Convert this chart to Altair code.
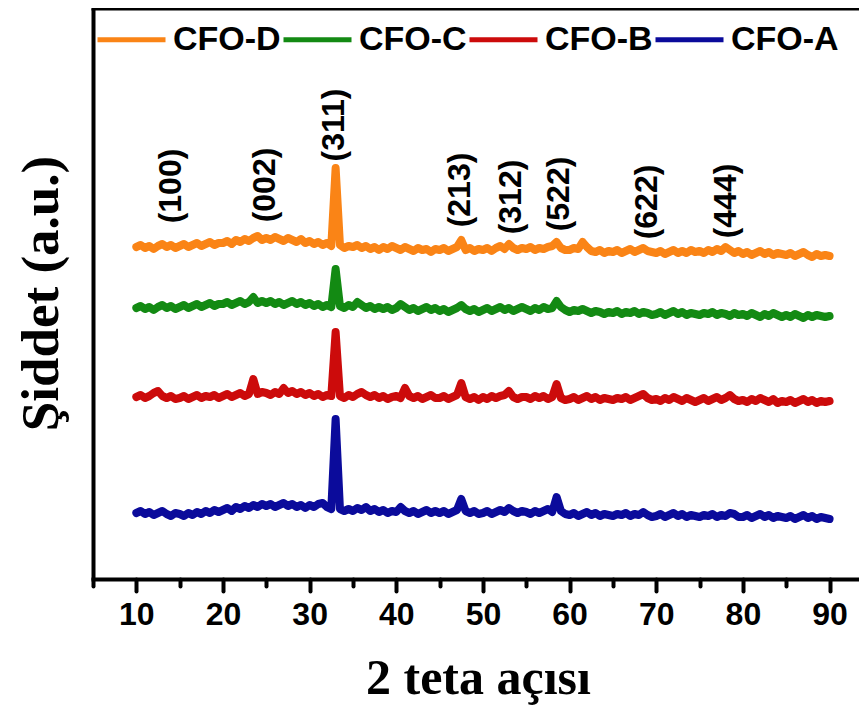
import altair as alt
import pandas as pd

# 2-theta grid (degrees), 0.5 degree steps from 10 to 90
two_theta = [round(10 + 0.5 * i, 1) for i in range(161)]

# Intensities (arbitrary units, vertically offset per sample)
cfo_d = [
    332, 334, 331, 333, 330, 333, 335, 332, 334, 331,
    333, 335, 332, 334, 336, 333, 335, 337, 334, 336,
    336, 338, 335, 339, 337, 340, 338, 341, 343, 339,
    341, 339, 342, 340, 338, 341, 339, 337, 340, 336,
    338, 335, 337, 334, 336, 333, 411, 334, 331, 333,
    332, 334, 331, 333, 330, 332, 329, 332, 330, 333,
    331, 329, 332, 330, 328, 331, 329, 330, 327, 330,
    329, 331, 328, 330, 332, 339, 329, 331, 328, 330,
    329, 331, 328, 331, 333, 330, 335, 331, 329, 331,
    330, 332, 329, 331, 330, 332, 333, 337, 331, 329,
    329, 331, 330, 337, 332, 328, 327, 329, 326, 328,
    327, 329, 326, 328, 330, 327, 329, 331, 328, 327,
    326, 328, 325, 327, 329, 326, 328, 326, 329, 327,
    328, 326, 329, 327, 330, 328, 332, 329, 326, 328,
    325, 327, 324, 326, 328, 325, 327, 324, 326, 325,
    324, 326, 323, 325, 327, 324, 322, 325, 323, 324,
    323,
]
cfo_c = [
    271, 273, 270, 272, 269, 272, 274, 271, 273, 270,
    272, 274, 271, 273, 275, 272, 274, 276, 273, 275,
    275, 277, 274, 276, 278, 275, 277, 282, 276, 278,
    276, 278, 275, 277, 274, 276, 278, 275, 277, 274,
    276, 273, 275, 272, 274, 272, 310, 273, 271, 274,
    272, 277, 274, 271, 273, 270, 272, 270, 272, 269,
    271, 275, 272, 269, 271, 268, 270, 272, 269, 271,
    268, 270, 267, 269, 271, 274, 270, 268, 270, 267,
    269, 271, 268, 270, 272, 269, 271, 268, 270, 272,
    270, 268, 271, 269, 272, 270, 271, 278, 272, 269,
    267, 269, 268, 270, 268, 266, 268, 267, 265, 267,
    266, 268, 265, 267, 266, 268, 265, 267, 266, 264,
    265, 267, 264, 266, 268, 265, 267, 264, 266, 265,
    264, 266, 265, 267, 264, 266, 265, 263, 266, 264,
    265, 263, 266, 264, 262, 265, 263, 266, 264, 262,
    264, 262, 265, 263, 261, 264, 262, 264, 263, 262,
    263,
]
cfo_b = [
    182, 184, 181, 183, 186, 188, 183, 181, 183, 180,
    181, 183, 180, 182, 184, 181, 183, 182, 184, 181,
    183, 185, 182, 184, 186, 183, 185, 200, 185, 187,
    186, 184, 187, 185, 191, 186, 188, 185, 187, 184,
    186, 183, 185, 182, 184, 183, 247, 183, 181, 184,
    182, 185, 187, 184, 182, 184, 181, 183, 180, 182,
    183, 181, 191, 183, 181, 183, 180, 182, 184, 181,
    181, 183, 180, 182, 184, 196, 182, 180, 182, 179,
    182, 180, 183, 181, 183, 184, 188, 182, 180, 182,
    182, 180, 183, 181, 183, 180, 182, 195, 181, 179,
    180, 182, 179, 181, 183, 180, 182, 179, 181, 180,
    179, 181, 180, 182, 179, 181, 183, 185, 181, 179,
    180, 178, 181, 179, 182, 180, 178, 181, 179, 177,
    179, 181, 178, 180, 182, 179, 181, 184, 180, 178,
    179, 177, 180, 178, 181, 179, 177, 180, 176, 178,
    177, 179, 176, 178, 180, 177, 179, 176, 178, 177,
    178,
]
cfo_a = [
    66, 68, 65, 67, 64, 66, 68, 65, 63, 66,
    65, 63, 66, 64, 67, 65, 68, 66, 69, 67,
    69, 71, 68, 72, 70, 73, 71, 74, 72, 75,
    73, 75, 72, 74, 76, 73, 75, 72, 74, 71,
    74, 72, 75, 76, 72, 70, 160, 70, 68, 70,
    68, 71, 69, 72, 68, 70, 67, 69, 66, 68,
    67, 72, 68, 66, 68, 65, 67, 69, 66, 68,
    66, 68, 65, 67, 69, 80, 68, 66, 68, 65,
    66, 68, 65, 67, 69, 67, 71, 68, 66, 68,
    67, 65, 68, 66, 68, 70, 67, 82, 68, 65,
    64, 66, 63, 65, 67, 64, 66, 63, 65, 64,
    63, 65, 64, 66, 63, 65, 64, 67, 64, 62,
    63, 65, 62, 64, 66, 63, 65, 62, 64, 63,
    62, 64, 63, 65, 62, 64, 63, 66, 65, 62,
    62, 64, 61, 63, 65, 62, 64, 61, 63, 62,
    61, 63, 60, 62, 64, 61, 63, 60, 62, 61,
    60,
]

samples = ["CFO-D", "CFO-C", "CFO-B", "CFO-A"]
colors = ["#FA8416", "#138A13", "#CC0B0B", "#0B0B9B"]

hkl_labels = ["(100)", "(002)", "(311)", "(213)", "(312)", "(522)", "(622)", "(444)"]
hkl_theta = [14.0, 24.8, 32.8, 47.4, 53.2, 58.8, 68.9, 78.1]
hkl_height = [393, 394, 454, 389, 382, 385, 377, 378]

major_ticks = [10, 20, 30, 40, 50, 60, 70, 80, 90]
minor_ticks = [5, 15, 25, 35, 45, 55, 65, 75, 85]

series = {"CFO-D": cfo_d, "CFO-C": cfo_c, "CFO-B": cfo_b, "CFO-A": cfo_a}
rows = []
for name, vals in series.items():
    for t, v in zip(two_theta, vals):
        rows.append({"two_theta": t, "intensity": v, "sample": name})
df = pd.DataFrame(rows)
df_hkl = pd.DataFrame({"two_theta": hkl_theta, "intensity": hkl_height, "label": hkl_labels})

x_scale = alt.Scale(domain=[5, 93.4], nice=False, zero=False)
y_scale = alt.Scale(domain=[0, 571], nice=False, zero=False)

y_axis = alt.Axis(
    labels=False, ticks=False, grid=False, domain=True,
    domainWidth=4, domainColor="black",
    title="Şiddet (a.u.)", titleFont="Liberation Serif", titleFontSize=53,
    titleFontWeight="bold", titleColor="black", titleAngle=270,
    titleX=-52, titleY=285, titleAlign="center", titleBaseline="middle",
)
y_enc = alt.Y("intensity:Q", scale=y_scale, axis=y_axis)

x_major = alt.Axis(
    orient="bottom", values=major_ticks, tickSize=12, tickWidth=4,
    tickColor="black", tickCap="round", domainWidth=4, domainColor="black",
    domainCap="square",
    labelFont="Liberation Sans", labelFontSize=32, labelFontWeight="bold",
    labelColor="black", labelPadding=8, labelFlush=False, grid=False, format="d",
    title="2 teta açısı", titleFont="Liberation Serif", titleFontSize=50,
    titleFontWeight="bold", titleColor="black", titleX=385, titleY=114,
    titleAlign="center", titleBaseline="alphabetic",
)
x_minor = alt.Axis(
    orient="bottom", values=minor_ticks, tickSize=7, tickWidth=4,
    tickColor="black", tickCap="round", labels=False, domain=False,
    grid=False, title=None,
)
x_top = alt.Axis(
    orient="top", ticks=False, labels=False, domain=True, domainWidth=4,
    domainColor="black", domainCap="square", grid=False, title=None,
)

lines = alt.Chart(df).mark_line(strokeWidth=8, strokeJoin="round", strokeCap="round").encode(
    x=alt.X("two_theta:Q", scale=x_scale, axis=x_major),
    y=y_enc,
    color=alt.Color(
        "sample:N",
        scale=alt.Scale(domain=samples, range=colors),
        legend=alt.Legend(
            orient="none", legendX=2, legendY=-5, direction="horizontal",
            columns=4, title=None, symbolType="stroke", symbolSize=4624,
            symbolStrokeWidth=5, labelFont="Liberation Sans", labelFontSize=34,
            labelFontWeight="bold", labelColor="black", labelOffset=5,
            columnPadding=-8, padding=0, labelLimit=300, symbolOpacity=1,
        ),
    ),
    detail="sample:N",
)

labels = alt.Chart(df_hkl).mark_text(
    angle=270, font="Liberation Sans", fontWeight="bold", fontSize=32,
    color="black", align="center", baseline="middle",
).encode(
    x=alt.X("two_theta:Q", scale=x_scale, axis=x_minor),
    y=y_enc,
    text="label:N",
)

frame_top = alt.Chart(df_hkl).mark_point(opacity=0).encode(
    x=alt.X("two_theta:Q", scale=x_scale, axis=x_top),
    y=y_enc,
)

chart = alt.layer(lines, labels, frame_top).resolve_axis(x="independent").properties(
    width=766, height=571,
    autosize=alt.AutoSizeParams(type="none"),
    padding={"left": 85, "top": 0, "right": 0, "bottom": 126},
    background="white",
).configure_view(stroke=None)

chart.save("out.html", embed_options={"renderer": "svg", "actions": False})
